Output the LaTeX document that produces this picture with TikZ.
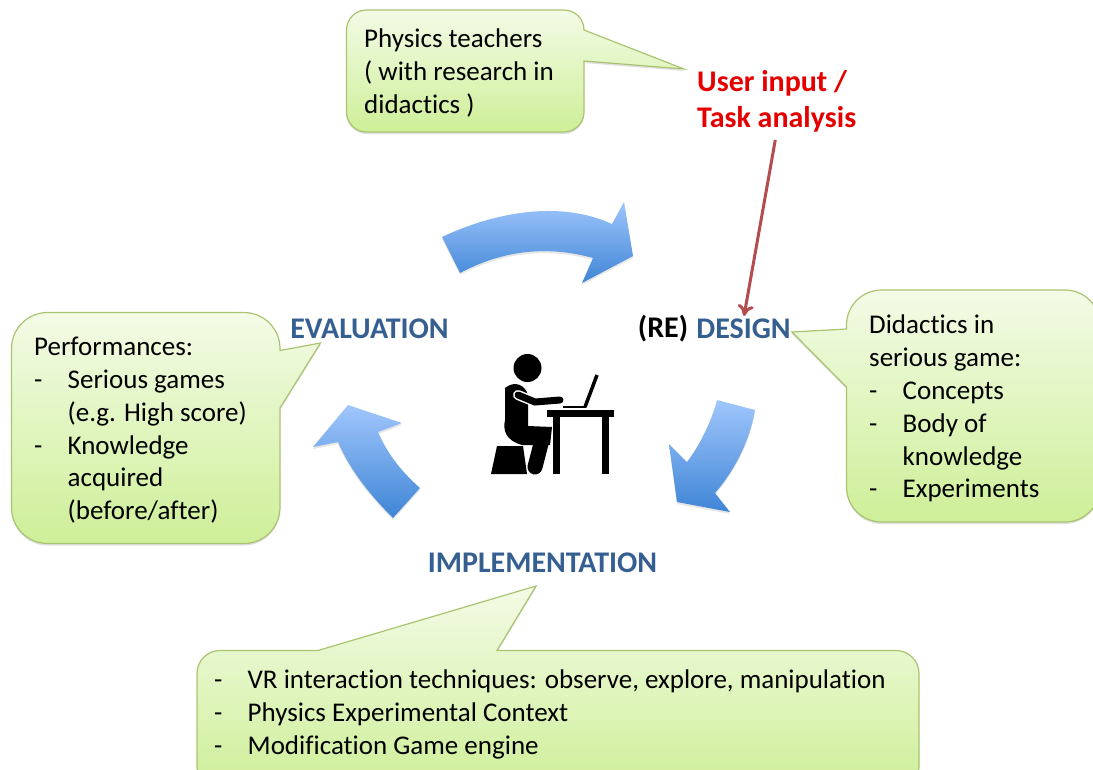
\documentclass[tikz,border=0pt]{standalone}
\usepackage{fontspec}
\setmainfont[Ligatures=NoCommon]{Carlito}
\usetikzlibrary{arrows.meta,shadows}

\definecolor{headblue}{HTML}{365F91}
\definecolor{calloutline}{HTML}{A9C471}
\definecolor{calloutlight}{HTML}{F3FBE6}
\definecolor{calloutdark}{HTML}{CEEF98}
\definecolor{cycletop}{HTML}{A0C6FC}
\definecolor{cyclebottom}{HTML}{3F85D6}
\definecolor{linkred}{HTML}{B44C4E}

\newcommand{\dashline}[1]{\makebox[33.5pt][l]{-}#1}

\tikzset{
  callout/.style={draw=calloutline,line width=1.2pt,top color=calloutlight,bottom color=calloutdark,
    drop shadow={shadow xshift=0pt,shadow yshift=-2pt,opacity=.25}},
  cyclearrow/.style={top color=cycletop,bottom color=cyclebottom,
    drop shadow={shadow xshift=0pt,shadow yshift=-2pt,opacity=.2}},
  bodytext/.style={font=\fontsize{27}{32.8}\selectfont,align=left,anchor=north west,inner sep=0pt},
  headtext/.style={font=\fontsize{30}{36}\selectfont\bfseries,text=headblue,inner sep=0pt},
  figure/.style={fill=black,draw=none}
}

\begin{document}
\begin{tikzpicture}[x=1pt,y=-1pt]
  \useasboundingbox (0,0) rectangle (1093,769);

  % callouts
  \path[callout] (346.5,70) [rounded corners=20] -- (346.5,10) -- (584,10) [sharp corners] -- (584,30) -- (684,69) -- (584,61) [rounded corners=20] -- (584,132) -- (346.5,132) -- cycle;
  \path[callout] (792,332) -- (846.5,329) [rounded corners=35] -- (846.5,290) -- (1100,290) -- (1100,522) -- (846.5,522) [sharp corners] -- (846.5,387) -- cycle;
  \path[callout] (11.5,430) [rounded corners=36] -- (11.5,312.5) -- (280,312.5) [sharp corners] -- (280,350.5) -- (320.5,343) -- (280,408) [rounded corners=36] -- (280,543.5) -- (11.5,543.5) -- cycle;
  \path[callout] (197,710) [rounded corners=23] -- (197,650.5) [sharp corners] -- (318,650.5) -- (536,586) -- (497,650.5) [rounded corners=23] -- (919,650.5) -- (919,790) -- (197,790) -- cycle;

  % cycle arrows
  \path[cyclearrow] (442,237) .. controls (495,212) and (560,200) .. (612,224) -- (624,202) -- (633,256) -- (582,283) -- (593,258) .. controls (550,246) and (505,249) .. (460,273) -- cycle;
  \path[cyclearrow] (717,400) -- (755,410) .. controls (750,440) and (735,470) .. (715,493) -- (730,512) -- (677,502) -- (669,444) -- (687,462) .. controls (700,445) and (712,420) .. (717,400) -- cycle;
  \path[cyclearrow] (420,488) -- (393,518) .. controls (370,495) and (350,470) .. (338,442) -- (313,447) -- (348,405) -- (402,423) -- (378,432) .. controls (388,455) and (402,472) .. (420,488) -- cycle;

  % person at the desk
  \fill[figure] (527.5,368) circle (14);
  \fill[figure] (505,388) .. controls (515,380) and (525,385) .. (528,395) -- (528,426) -- (552,427) -- (550,445) -- (522,445) .. controls (505,440) and (503,430) .. (505,420) -- cycle;
  \draw[line width=15,line cap=round] (543,436) -- (535,467);
  \draw[white,line width=10,line cap=round] (518,395) -- (535,402) -- (560,400);
  \draw[line width=7,line cap=round] (518,395) -- (535,402) -- (560,400);
  \fill[figure] (497,446) -- (523,446) -- (527,474) -- (491,474) -- cycle;
  \fill[figure] (547,410) rectangle (614,417);
  \fill[figure] (553,417) rectangle (560,474);
  \fill[figure] (602,417) rectangle (609,474);
  \draw[line width=3.5] (597,375) -- (585,407);
  \draw[line width=1.5] (563,407) -- (586,407);

  % labels
  \node[headtext] (evaluation) at (369.5,329) {EVALUATION};
  \node[headtext] (design) at (743.5,329) {DESIGN};
  \node[headtext,text=black] (re) at (663,329) {(RE)};
  \node[headtext] (implementation) at (542.5,563) {IMPLEMENTATION};
  \node[headtext,text=red!90!black,align=left,anchor=north west] (task) at (697,70) {User input /\\Task analysis};
  \draw[linkred,line width=3pt,-{To[length=11pt,width=16pt]},shorten >=3pt,shorten <=8pt] (task.south) -- (design.north);

  \node[bodytext] (teachers) at (364,29) {Physics teachers\\( with research in\\didactics )};
  \node[bodytext] (didactics) at (869,315) {Didactics in\\serious game:\\\dashline{Concepts}\\\dashline{Body of}\\\hspace*{33.5pt}knowledge\\\dashline{Experiments}};
  \node[bodytext] (performances) at (34,337) {Performances:\\\dashline{Serious games}\\\hspace*{33.5pt}(e.g. High score)\\\dashline{Knowledge}\\\hspace*{33.5pt}acquired\\\hspace*{33.5pt}(before/after)};
  \node[bodytext] (techniques) at (214,670) {\dashline{VR interaction techniques: observe, explore, manipulation}\\\dashline{Physics Experimental Context}\\\dashline{Modification Game engine}};
\end{tikzpicture}
\end{document}
